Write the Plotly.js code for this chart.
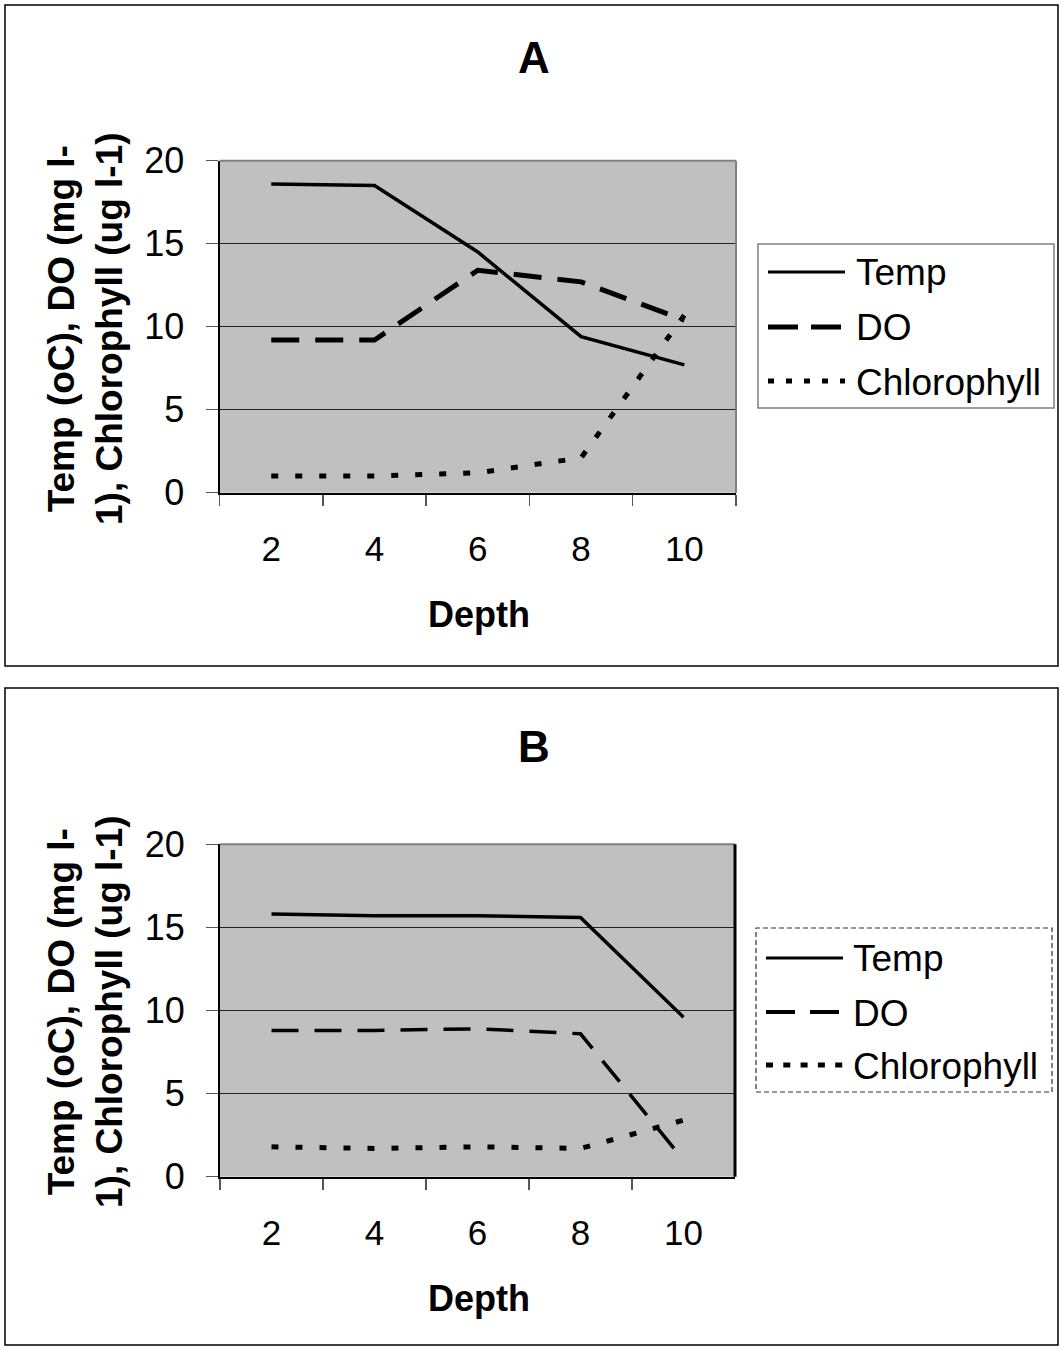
<!DOCTYPE html>
<html>
<head>
<meta charset="utf-8">
<script src="https://cdn.plot.ly/plotly-3.0.1.min.js"></script>
<style>
  html, body { margin: 0; padding: 0; background: #ffffff; }
  #chart { width: 1061px; height: 1350px; }
</style>
</head>
<body>
<div id="chart"></div>
<script>
// ---- Data ----
const depths = ['2', '4', '6', '8', '10'];

const tempA = [18.6, 18.5, 14.5, 9.4, 7.7];
const doA   = [9.2, 9.2, 13.4, 12.7, 10.4];
const chlA  = [1.0, 1.0, 1.2, 2.1, 10.7];

const tempB = [15.8, 15.7, 15.7, 15.6, 9.6];
const doB   = [8.8, 8.8, 8.9, 8.6, 1.0];
const chlB  = [1.8, 1.7, 1.8, 1.7, 3.4];

const seriesNames = ['Temp', 'DO', 'Chlorophyll'];
const panelTitles = ['A', 'B'];
const xTitle = 'Depth';
const yTitle = 'Temp (oC), DO (mg l-<br>1), Chlorophyll (ug l-1)';
const yTicks = [0, 5, 10, 15, 20];

// ---- Styles ----
const W = 1061, H = 1350;
const FONT = 'Liberation Sans, Arial, Helvetica, sans-serif';
const px = v => v / W;
const py = v => 1 - v / H;

const stylesA = [
  {color: '#000', width: 3.5},
  {color: '#000', width: 5, dash: '28px,16px'},
  {color: '#000', width: 5, dash: '7px,17px'}
];
const stylesB = [
  {color: '#000', width: 3.5},
  {color: '#000', width: 3.5, dash: '27px,16px'},
  {color: '#000', width: 5, dash: '7px,17px'}
];
const legStylesA = [
  {color: '#000', width: 3},
  {color: '#000', width: 5, dash: '30px,13px'},
  {color: '#000', width: 5, dash: '6px,12px'}
];
const legStylesB = [
  {color: '#000', width: 3},
  {color: '#000', width: 4, dash: '29px,15px'},
  {color: '#000', width: 5, dash: '7px,10.3px'}
];

const seriesA = [tempA, doA, chlA];
const seriesB = [tempB, doB, chlB];

const traces = [];
seriesA.forEach((ys, i) => traces.push({
  x: depths, y: ys, name: seriesNames[i], xaxis: 'x', yaxis: 'y',
  mode: 'lines', line: stylesA[i], showlegend: false
}));
seriesB.forEach((ys, i) => traces.push({
  x: depths, y: ys, name: seriesNames[i], xaxis: 'x2', yaxis: 'y2',
  mode: 'lines', line: stylesB[i], showlegend: false
}));

function xAxis(domain, anchor) {
  return {
    domain: domain, anchor: anchor, type: 'category',
    range: [-0.5, 4.5], tickson: 'boundaries',
    ticks: 'outside', ticklen: 11, tickwidth: 1.5, tickcolor: '#555',
    showline: true, linecolor: '#000', linewidth: 2,
    showgrid: false, zeroline: false, fixedrange: true,
    ticklabelstandoff: 24,
    tickfont: {family: FONT, size: 35, color: '#000'}
  };
}
function yAxis(domain, anchor) {
  return {
    domain: domain, anchor: anchor, range: [0, 20],
    tickvals: yTicks, ticktext: yTicks.map(String),
    ticks: 'outside', ticklen: 12, tickwidth: 1.5, tickcolor: '#555',
    showline: true, linecolor: '#000', linewidth: 2,
    showgrid: true, gridcolor: '#222', gridwidth: 1,
    zeroline: false, fixedrange: true,
    ticklabelstandoff: 14,
    tickfont: {family: FONT, size: 36, color: '#000'}
  };
}

const annotations = [
  {text: '<b>' + panelTitles[0] + '</b>', x: px(534), y: py(57), font: {size: 44}},
  {text: '<b>' + panelTitles[1] + '</b>', x: px(534), y: py(746), font: {size: 44}},
  {text: '<b>' + xTitle + '</b>', x: px(478.5), y: py(614), font: {size: 36}},
  {text: '<b>' + xTitle + '</b>', x: px(478.5), y: py(1298), font: {size: 36}},
  {text: '<b>' + yTitle + '</b>', x: px(85), y: py(329), textangle: -90, font: {size: 37}},
  {text: '<b>' + yTitle + '</b>', x: px(85), y: py(1012), textangle: -90, font: {size: 37}}
];

const shapes = [
  // outer frames
  {type: 'rect', xref: 'paper', yref: 'paper', x0: px(5), x1: px(1058), y0: py(666), y1: py(5),
   line: {color: '#000', width: 1.5}},
  {type: 'rect', xref: 'paper', yref: 'paper', x0: px(5), x1: px(1058), y0: py(1345), y1: py(688),
   line: {color: '#000', width: 1.5}},
  // plot A top/right border (gray)
  {type: 'line', xref: 'x domain', yref: 'y domain', x0: 0, x1: 1, y0: 1, y1: 1,
   line: {color: '#808080', width: 2}, layer: 'above'},
  {type: 'line', xref: 'x domain', yref: 'y domain', x0: 1, x1: 1, y0: 0, y1: 1,
   line: {color: '#808080', width: 2}, layer: 'above'},
  // plot B top (gray) / right (black) border
  {type: 'line', xref: 'x2 domain', yref: 'y2 domain', x0: 0, x1: 1, y0: 1, y1: 1,
   line: {color: '#808080', width: 2}, layer: 'above'},
  {type: 'line', xref: 'x2 domain', yref: 'y2 domain', x0: 1, x1: 1, y0: 0, y1: 1,
   line: {color: '#000', width: 3}, layer: 'above'},
  // legend boxes
  {type: 'rect', xref: 'paper', yref: 'paper', x0: px(758), x1: px(1054), y0: py(408), y1: py(244),
   line: {color: '#808080', width: 1.5}},
  {type: 'rect', xref: 'paper', yref: 'paper', x0: px(756), x1: px(1052), y0: py(1092), y1: py(928),
   line: {color: '#333', width: 1.2, dash: '5px,3px'}}
];

// legends (keys + labels)
const legRowsA = [272, 327, 381];
const legRowsB = [958, 1012, 1065];
seriesNames.forEach((name, i) => {
  shapes.push({type: 'line', xref: 'paper', yref: 'paper', x0: px(768), x1: px(845),
    y0: py(legRowsA[i]), y1: py(legRowsA[i]), line: legStylesA[i]});
  annotations.push({text: name, x: px(854), y: py(legRowsA[i] + 1), xanchor: 'left', font: {size: 37}});
  shapes.push({type: 'line', xref: 'paper', yref: 'paper', x0: px(766), x1: px(843),
    y0: py(legRowsB[i]), y1: py(legRowsB[i]), line: legStylesB[i]});
  annotations.push({text: name, x: px(851), y: py(legRowsB[i] + 1), xanchor: 'left', font: {size: 37}});
});

annotations.forEach(a => {
  a.xref = 'paper'; a.yref = 'paper'; a.showarrow = false;
  if (!a.xanchor) a.xanchor = 'center';
  a.yanchor = 'middle';
  a.font = Object.assign({family: FONT, color: '#000'}, a.font);
});

const layout = {
  width: W, height: H,
  margin: {l: 0, r: 0, t: 0, b: 0},
  paper_bgcolor: '#fff',
  plot_bgcolor: '#c0c0c0',
  showlegend: false,
  xaxis:  xAxis([px(219.6), px(736)], 'y'),
  yaxis:  yAxis([py(492.7), py(160.7)], 'x'),
  xaxis2: xAxis([px(220), px(735)], 'y2'),
  yaxis2: yAxis([py(1176.7), py(844.3)], 'x2'),
  annotations: annotations,
  shapes: shapes
};

Plotly.newPlot('chart', traces, layout, {staticPlot: true, displayModeBar: false});
</script>
</body>
</html>
